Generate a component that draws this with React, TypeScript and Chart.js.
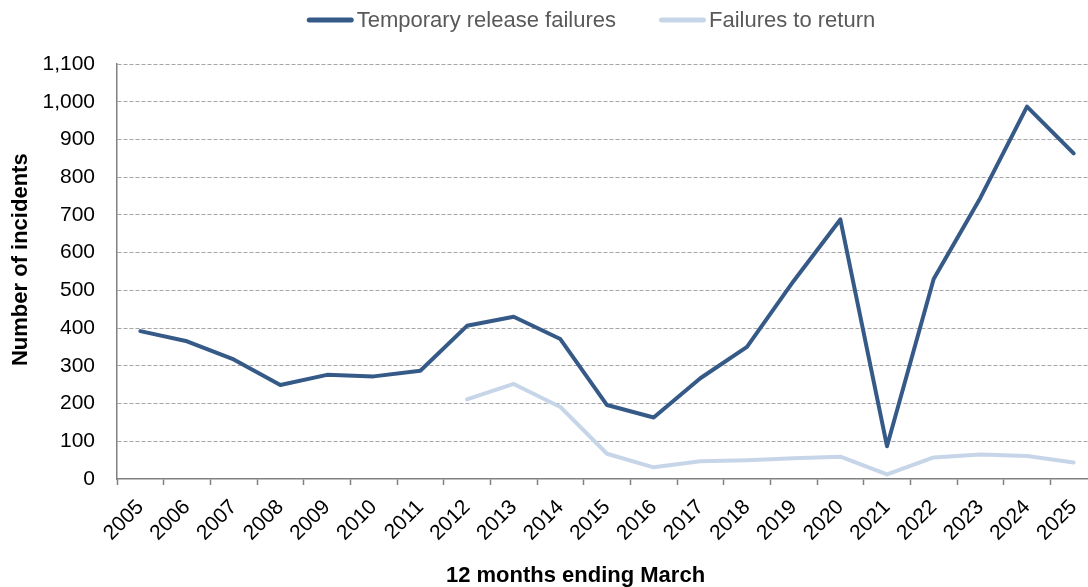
import React, { useEffect, useRef } from "react";
import { Chart, registerables } from "chart.js";

Chart.register(...registerables);

const years = [
  "2005", "2006", "2007", "2008", "2009", "2010", "2011", "2012", "2013", "2014",
  "2015", "2016", "2017", "2018", "2019", "2020", "2021", "2022", "2023", "2024", "2025",
];
const temporaryReleaseFailures = [
  392, 365, 317, 249, 276, 272, 287, 406, 430, 371,
  196, 163, 267, 350, 525, 688, 87, 530, 745, 987, 863,
];
const failuresToReturn: (number | null)[] = [
  null, null, null, null, null, null, null, 211, 252, 191,
  67, 31, 47, 50, 55, 59, 12, 57, 65, 61, 44,
];
const seriesLabels = ["Temporary release failures", "Failures to return"];
const seriesColors = ["#365a87", "#c6d5e8"];
const yMin = 0;
const yMax = 1100;
const yStep = 100;
const xTitle = "12 months ending March";
const yTitle = "Number of incidents";

const FONT = '"Liberation Sans", Arial, sans-serif';
const W = 1097;
const H = 587;

export default function App() {
  const ref = useRef<HTMLCanvasElement>(null);

  useEffect(() => {
    if (!ref.current) return;

    const decorations = {
      id: "decorations",
      afterDraw(chart: any) {
        const { ctx } = chart;
        ctx.save();
        // legend
        ctx.font = `22px ${FONT}`;
        const items = chart.data.datasets.map((ds: any) => ({ label: ds.label, color: ds.borderColor }));
        const lineW = 47;
        const gapText = 3;
        const gapItem = 43;
        const widths = items.map((it: any) => ctx.measureText(it.label).width);
        const total =
          widths.reduce((s: number, w: number) => s + lineW + gapText + w, 0) + gapItem * (items.length - 1);
        let x = 591 - total / 2;
        items.forEach((it: any, i: number) => {
          ctx.strokeStyle = it.color;
          ctx.lineWidth = 5;
          ctx.lineCap = "round";
          ctx.beginPath();
          ctx.moveTo(x + 2.5, 20);
          ctx.lineTo(x + lineW - 2.5, 20);
          ctx.stroke();
          ctx.fillStyle = "#595959";
          ctx.textBaseline = "alphabetic";
          ctx.textAlign = "left";
          ctx.fillText(it.label, x + lineW + gapText, 27);
          x += lineW + gapText + widths[i] + gapItem;
        });
        // axis titles
        ctx.fillStyle = "#000000";
        ctx.font = `bold 22px ${FONT}`;
        ctx.textAlign = "center";
        ctx.textBaseline = "alphabetic";
        ctx.fillText(xTitle, 575.5, 581.5);
        ctx.translate(27, 259.7);
        ctx.rotate(-Math.PI / 2);
        ctx.fillText(yTitle, 0, 0);
        ctx.restore();
      },
    };

    const chart = new Chart(ref.current, {
      type: "line",
      data: {
        labels: years,
        datasets: [
          {
            label: seriesLabels[0],
            data: temporaryReleaseFailures,
            borderColor: seriesColors[0],
            backgroundColor: seriesColors[0],
            borderWidth: 4,
            pointRadius: 0,
            pointHoverRadius: 0,
            tension: 0,
            borderJoinStyle: "round",
            borderCapStyle: "round",
          },
          {
            label: seriesLabels[1],
            data: failuresToReturn,
            borderColor: seriesColors[1],
            backgroundColor: seriesColors[1],
            borderWidth: 4,
            pointRadius: 0,
            pointHoverRadius: 0,
            tension: 0,
            borderJoinStyle: "round",
            borderCapStyle: "round",
            spanGaps: false,
          },
        ],
      },
      options: {
        animation: false,
        responsive: false,
        devicePixelRatio: 1,
        events: [],
        layout: { padding: { top: 64, left: 0, right: 0, bottom: 0 } },
        plugins: {
          legend: { display: false },
          tooltip: { enabled: false },
          title: { display: false },
        },
        scales: {
          x: {
            type: "category",
            offset: true,
            grid: {
              display: true,
              offset: true,
              drawOnChartArea: false,
              drawTicks: true,
              tickLength: 6,
              tickColor: "#808080",
              tickWidth: 1.5,
              color: "#808080",
            },
            border: { display: true, color: "#808080", width: 1.5 },
            ticks: {
              autoSkip: false,
              minRotation: 45,
              maxRotation: 45,
              padding: 10,
              color: "#000000",
              font: { family: FONT, size: 21 },
            },
            afterFit(scale: any) {
              scale.height = 108;
              scale.paddingLeft = 0;
              scale.paddingRight = 0;
            },
          },
          y: {
            min: yMin,
            max: yMax,
            grid: {
              display: true,
              drawTicks: false,
              lineWidth: 1,
              color: (c: any) => (c.tick && c.tick.value === 0 ? "rgba(0,0,0,0)" : "#a6a6a6"),
            },
            border: { display: true, color: "#808080", width: 1.5, dash: [4, 2] },
            ticks: {
              stepSize: yStep,
              padding: 22,
              color: "#000000",
              font: { family: FONT, size: 21 },
              callback: (v: any) => Number(v).toLocaleString("en-US"),
            },
            afterFit(scale: any) {
              scale.width = 117;
            },
          },
        },
      },
      plugins: [decorations],
    });

    return () => chart.destroy();
  }, []);

  return (
    <div style={{ width: W, height: H, position: "relative" }}>
      <style>{"body{margin:0;overflow:hidden;}"}</style>
      <canvas ref={ref} width={W} height={H} style={{ display: "block" }} />
    </div>
  );
}
